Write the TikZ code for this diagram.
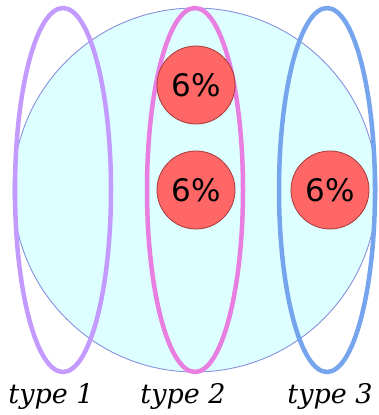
\documentclass[tikz,border=0pt]{standalone}
\usepackage{fontspec}
\newfontfamily\pctfont{DejaVu Sans}
\newfontfamily\lblfont{DejaVu Serif}
\definecolor{bigfill}{HTML}{DDFFFF}
\definecolor{bigline}{HTML}{8890DD}
\definecolor{redfill}{HTML}{FF6666}
\definecolor{redline}{HTML}{A83A3A}
\definecolor{c1}{HTML}{C39BFF}
\definecolor{c2}{HTML}{E87EE0}
\definecolor{c3}{HTML}{76A5EE}
\tikzset{
  bigcirc/.style={circle, draw=bigline, fill=bigfill, line width=0.9pt, minimum size=364pt, inner sep=0pt},
  typeell/.style={ellipse, line width=4.5pt, minimum width=96pt, minimum height=364pt, inner sep=0pt},
  pct/.style={circle, draw=redline, fill=redfill, line width=0.8pt, minimum size=78pt, inner sep=0pt, font=\pctfont\fontsize{31}{31}\selectfont},
  lbl/.style={font=\lblfont\itshape\fontsize{27}{27}\selectfont, inner sep=0pt}
}
\usetikzlibrary{shapes.geometric}
\begin{document}
\begin{tikzpicture}[x=1pt,y=1pt]
\useasboundingbox (0,0) rectangle (379,415);
\node[bigcirc] (big) at (195,225) {};
\node[typeell, draw=c1] (e1) at (63,225) {};
\node[typeell, draw=c2] (e2) at (195,225) {};
\node[typeell, draw=c3] (e3) at (327,225) {};
\node[pct] (p1) at (196,330) {6\%};
\node[pct] (p2) at (196,225) {6\%};
\node[pct] (p3) at (330,225) {6\%};
\node[lbl] (l1) at (51,19) {type 1};
\node[lbl] (l2) at (183,19) {type 2};
\node[lbl] (l3) at (330,19) {type 3};
\end{tikzpicture}
\end{document}
